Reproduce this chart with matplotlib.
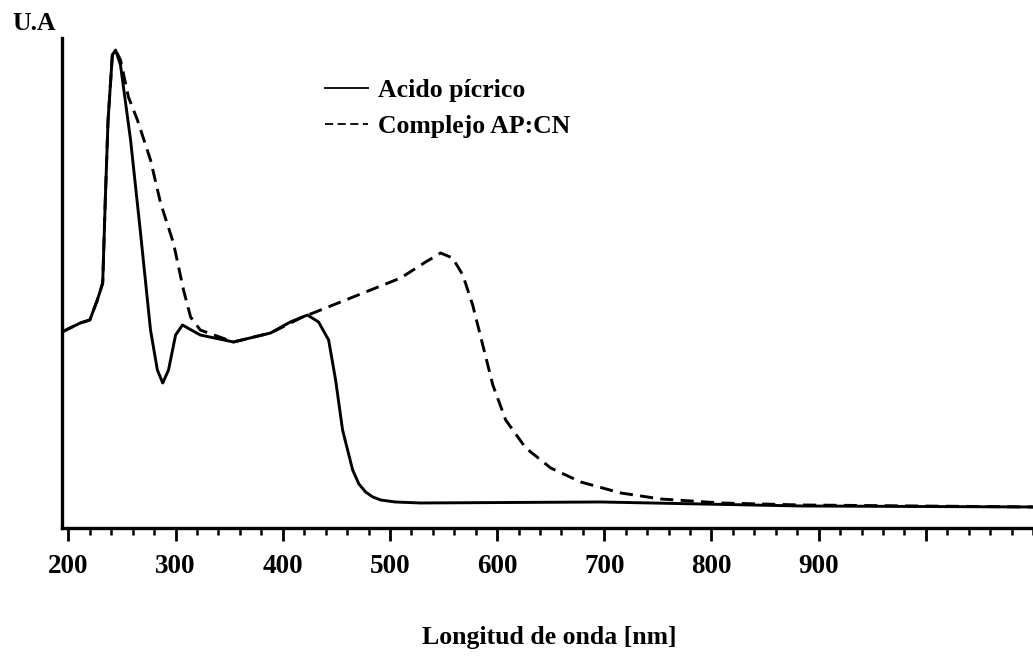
import numpy as np
import matplotlib
matplotlib.use("Agg")
import matplotlib.pyplot as plt
from matplotlib.ticker import FixedLocator, MultipleLocator, FuncFormatter

plt.rcParams['font.family'] = ['Liberation Serif', 'DejaVu Serif']
plt.rcParams['font.weight'] = 'bold'

# Acido picrico (solid line)
wl_ap = [194, 211, 220, 227, 232, 234.5, 237, 241, 244, 248.6, 258, 267, 276.6, 283, 288,
         293.4, 300, 306.4, 323, 354, 388.6, 407, 423, 433.4, 442.8, 449.3, 455.8, 465.2,
         471, 477.3, 484, 491.3, 505, 528.7, 696.7, 883.5, 1101]
ua_ap = [1.96, 2.05, 2.08, 2.28, 2.45, 3.31, 4.08, 4.73, 4.78, 4.63, 3.88, 2.98, 1.98, 1.58, 1.45,
         1.58, 1.93, 2.03, 1.93, 1.86, 1.95, 2.06, 2.13, 2.06, 1.88, 1.48, 0.98, 0.58,
         0.44, 0.36, 0.31, 0.28, 0.26, 0.25, 0.26, 0.22, 0.21]

# Complejo AP:CN (dashed line)
wl_cn = [194, 211, 220, 227, 232, 234.5, 237, 241, 244, 248.6, 256, 264.4, 276.6, 286, 298,
         307.4, 314, 323, 354, 388.6, 416.6, 463.3, 510, 533.3, 547.3, 558.5, 568, 577.2,
         586.6, 596, 608, 626.7, 650, 678, 715.4, 752.7, 808.8, 883.5, 1101]
ua_cn = [1.96, 2.05, 2.08, 2.28, 2.45, 3.31, 4.08, 4.73, 4.78, 4.68, 4.31, 4.08, 3.68, 3.25, 2.85,
         2.38, 2.11, 1.98, 1.86, 1.95, 2.10, 2.30, 2.50, 2.66, 2.75, 2.70, 2.53, 2.23,
         1.83, 1.43, 1.08, 0.80, 0.60, 0.46, 0.35, 0.29, 0.25, 0.23, 0.21]

major_ticks = [200, 300, 400, 500, 600, 700, 800, 900, 1000]
labeled = [200, 300, 400, 500, 600, 700, 800, 900]

fig = plt.figure(figsize=(10.33, 6.58), dpi=100)
ax = fig.add_axes([0.060, 0.1976, 0.940, 0.7446])

ax.plot(wl_ap, ua_ap, color='black', lw=2.1, solid_joinstyle='round', label='Acido pícrico')
ax.plot(wl_cn, ua_cn, color='black', lw=2.1, linestyle=(0, (4.5, 2.5)), label='Complejo AP:CN')

ax.set_xlim(194, 1100)
ax.set_ylim(0, 4.9)

for s in ['top', 'right']:
    ax.spines[s].set_visible(False)
ax.spines['left'].set_linewidth(2.4)
ax.spines['bottom'].set_linewidth(2.4)

ax.xaxis.set_major_locator(FixedLocator(major_ticks))
ax.xaxis.set_minor_locator(MultipleLocator(20))
ax.xaxis.set_major_formatter(FuncFormatter(lambda v, p: str(int(v)) if int(v) in labeled else ''))
ax.tick_params(axis='x', which='major', direction='out', length=9, width=2, labelsize=19.5, pad=10)
ax.tick_params(axis='x', which='minor', direction='out', length=5, width=1.8)
ax.set_yticks([])

ax.set_xlabel('Longitud de onda [nm]', fontsize=18.5, fontweight='bold')
ax.xaxis.set_label_coords(0.502, -0.2245)
ax.xaxis.label.set_va('center')
fig.text(0.012, 0.964, 'U.A', fontsize=18.5, fontweight='bold', ha='left', va='center')

leg = ax.legend(loc='upper left', bbox_to_anchor=(0.271, 0.917), frameon=False,
                borderpad=0, borderaxespad=0,
                handlelength=1.65, handletextpad=0.4, labelspacing=0.5,
                prop={'size': 18.5, 'weight': 'bold'})
for ln in leg.get_lines():
    ln.set_linewidth(1.3)

fig.savefig('out.png', dpi=100)
